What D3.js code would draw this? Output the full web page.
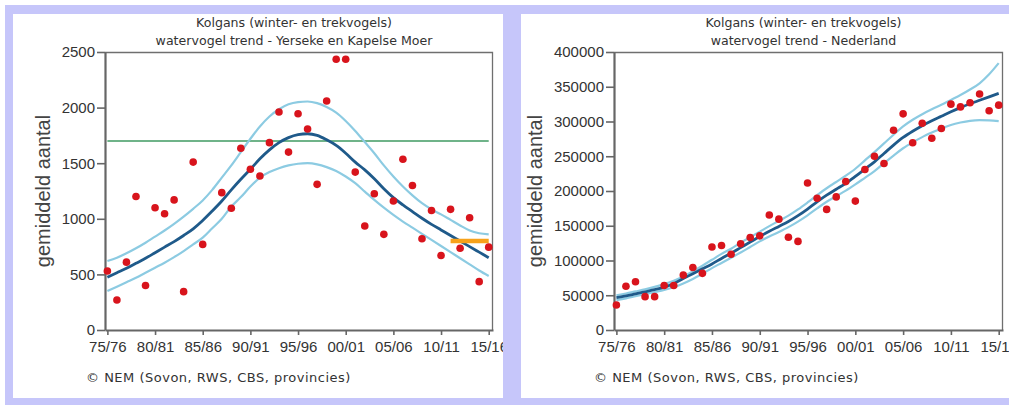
<!DOCTYPE html>
<meta charset="utf-8">
<style>
body { margin:0; background:#fff; width:1009px; height:405px; overflow:hidden; }
#frame { position:absolute; left:5px; top:5px; width:1004px; height:400px; background:#c6c6fa; }
svg { position:absolute; background:#fff; overflow:hidden; }
.small { font-family:"DejaVu Sans", Verdana, sans-serif; font-size:12.6px; fill:#333; }
.src { font-family:"DejaVu Sans", Verdana, sans-serif; font-size:13px; letter-spacing:0.5px; fill:#333; }
.tick text { font-family:"Liberation Sans", Arial, sans-serif; font-size:15px; fill:#333; }
.ylab { font-family:"Liberation Sans", Arial, sans-serif; font-size:20px; fill:#444; }
</style>
<script src="https://d3js.org/d3.v7.min.js"></script>
<div id="frame"></div>
<script>

// winter seasons 75/76 .. 15/16, keyed by first year
var years = [1975,1976,1977,1978,1979,1980,1981,1982,1983,1984,
             1985,1986,1987,1988,1989,1990,1991,1992,1993,1994,
             1995,1996,1997,1998,1999,2000,2001,2002,2003,2004,
             2005,2006,2007,2008,2009,2010,2011,2012,2013,2014,2015]
var tickYears = [1975,1980,1985,1990,1995,2000,2005,2010,2015]
var tickLabels = ["75/76","80/81","85/86","90/91","95/96","00/01","05/06","10/11","15/16"]

// Yerseke en Kapelse Moer
var ykCounts = [530,270,610,1200,400,1100,1045,1170,345,1510,
                770,null,1235,1095,1635,1445,1385,1685,1960,1600,
                1945,1808,1310,2060,2435,2435,1420,935,1225,860,
                1160,1535,1300,820,1075,670,1085,735,1010,435,745]
var ykTrend = [475,515,555,600,645,695,745,795,850,910,
               985,1070,1160,1260,1355,1445,1540,1620,1685,1730,
               1757,1765,1750,1710,1660,1590,1510,1440,1360,1270,
               1190,1125,1065,1005,950,900,850,800,750,700,650]
var ykUpper = [620,650,690,735,785,840,895,955,1020,1090,
               1165,1260,1370,1480,1600,1720,1830,1920,1985,2030,
               2050,2055,2040,2005,1955,1880,1790,1690,1590,1480,
               1380,1290,1210,1140,1085,1040,990,940,895,870,860]
var ykLower = [350,390,430,470,515,560,605,655,710,770,
               830,915,1000,1110,1195,1290,1370,1420,1455,1480,
               1495,1500,1490,1465,1430,1380,1320,1245,1170,1100,
               1035,975,920,865,810,755,700,645,590,535,485]
var ykNorm = {from:1975, to:2015, value:1700}     // green line
var ykRecent = {from:2011, to:2015, value:800}    // orange bar
var ykTicks = [0,500,1000,1500,2000,2500]

// Nederland
var nlCounts = [36000,63000,69500,48000,48000,64000,64000,79000,90000,81500,
                119500,121500,109000,124000,133000,135500,165500,159500,133500,127500,
                211500,189500,173500,191500,213500,185500,231000,250000,239500,287500,
                311000,269500,297500,276000,290000,325000,321000,327000,339500,315500,323500]
var nlTrend = [46500,49000,52000,55000,58000,61500,67000,74000,81000,88000,
               95000,103000,110500,118500,126500,134500,142000,149000,156000,164500,
               174000,184500,194000,202500,211000,221000,231500,242000,254000,266000,
               277000,286000,294000,301000,307500,314000,320000,325500,330500,335500,340500]
var nlUpper = [50000,52500,55500,58500,62000,66000,71000,77000,84500,92500,
               101000,109500,117000,125500,133500,141500,149500,157000,164500,173500,
               183500,194000,204000,213000,222000,232000,244000,256000,268500,281000,
               293000,302500,310500,317500,324000,331000,338000,346000,355000,368000,384000]
var nlLower = [43000,45500,48500,51500,54500,57500,61500,67000,73500,81000,
               89000,96500,104000,111500,119500,127500,134500,141000,148000,156000,
               165000,175000,184500,192500,200500,209500,219000,228500,240000,251000,
               261500,270000,277500,284000,290000,295000,298500,301000,302000,301500,300500]
var nlTicks = [0,50000,100000,150000,200000,250000,300000,350000,400000]

var title1 = "Kolgans (winter- en trekvogels)"
var source = "\u00a9 NEM (Sovon, RWS, CBS, provincies)"

function panel(o){
  var h = 278
  var svg = d3.select("body").append("svg")
    .style("left", o.left+"px").style("top","14px")
    .attr("width", o.width).attr("height", 384)

  var x = d3.scaleLinear().domain([1974.75, 2015.45]).range([0, o.plotW])
  var y = d3.scaleLinear().domain([0, o.yMax]).range([h, 0])

  svg.append("text").attr("class","small").attr("text-anchor","middle")
    .attr("x", o.mLeft + o.plotW/2 - 5).attr("y", 13).text(title1)
  svg.append("text").attr("class","small").attr("text-anchor","middle")
    .attr("x", o.mLeft + o.plotW/2 - 5).attr("y", 31).text(o.title2)
  svg.append("text").attr("class","src").attr("x", 73).attr("y", 368).text(source)

  svg.append("text").attr("class","ylab").attr("text-anchor","middle")
    .attr("transform","translate("+o.labX+","+(38+h/2)+")rotate(-90)")
    .text("gemiddeld aantal")

  var g = svg.append("g").attr("transform","translate("+o.mLeft+",38)")

  // frame top + right
  g.append("path").attr("d","M0,0.5H"+(o.plotW-0.5)+"V"+h)
    .attr("fill","none").attr("stroke","#6f6f6f").attr("stroke-width",1.3)

  var ya = g.append("g").call(d3.axisLeft(y).tickValues(o.yTicks).tickFormat(d3.format("d"))
    .tickSize(8).tickPadding(2).tickSizeOuter(0))
  var xa = g.append("g").attr("transform","translate(0,"+h+")")
    .call(d3.axisBottom(x).tickValues(tickYears).tickFormat(function(d,i){return tickLabels[i]})
      .tickSize(5).tickPadding(6).tickSizeOuter(0))
  ;[ya,xa].forEach(function(a){
    a.select(".domain").attr("stroke","#666").attr("stroke-width",2.2)
    a.selectAll(".tick line").attr("stroke","#666").attr("stroke-width",1.6)
    a.selectAll("text").attr("fill","#333")
  })

  var line = function(vals){
    return d3.line().curve(d3.curveMonotoneX)
      .x(function(d,i){return x(years[i])}).y(function(d){return y(d)})(vals)
  }

  if(o.norm){
    g.append("line").attr("x1",x(o.norm.from)).attr("x2",x(o.norm.to))
      .attr("y1",y(o.norm.value)).attr("y2",y(o.norm.value))
      .attr("stroke","#3f9a62").attr("stroke-width",1.6)
  }
  ;[o.upper,o.lower].forEach(function(v){
    g.append("path").attr("d",line(v)).attr("fill","none")
      .attr("stroke","#8ccbe2").attr("stroke-width",2.2)
  })
  g.append("path").attr("d",line(o.trend)).attr("fill","none")
    .attr("stroke","#1f5a8a").attr("stroke-width",2.8)
  if(o.recent){
    g.append("line").attr("x1",x(o.recent.from)).attr("x2",x(o.recent.to))
      .attr("y1",y(o.recent.value)).attr("y2",y(o.recent.value))
      .attr("stroke","#f7a21b").attr("stroke-width",4.5)
  }

  var pts = years.map(function(yr,i){return {yr:yr, v:o.counts[i]}}).filter(function(d){return d.v!=null})
  g.selectAll("circle").data(pts).enter().append("circle")
    .attr("cx",function(d){return x(d.yr)}).attr("cy",function(d){return y(d.v)})
    .attr("r",3.8).attr("fill","#d8141c")
}

panel({left:13, width:490, mLeft:92, plotW:388, labX:37, yMax:2500, yTicks:ykTicks,
  title2:"watervogel trend - Yerseke en Kapelse Moer",
  counts:ykCounts, trend:ykTrend, upper:ykUpper, lower:ykLower, norm:ykNorm, recent:ykRecent})

panel({left:521, width:488, mLeft:93, plotW:389, labX:21, yMax:400000, yTicks:nlTicks,
  title2:"watervogel trend - Nederland",
  counts:nlCounts, trend:nlTrend, upper:nlUpper, lower:nlLower})

</script>
